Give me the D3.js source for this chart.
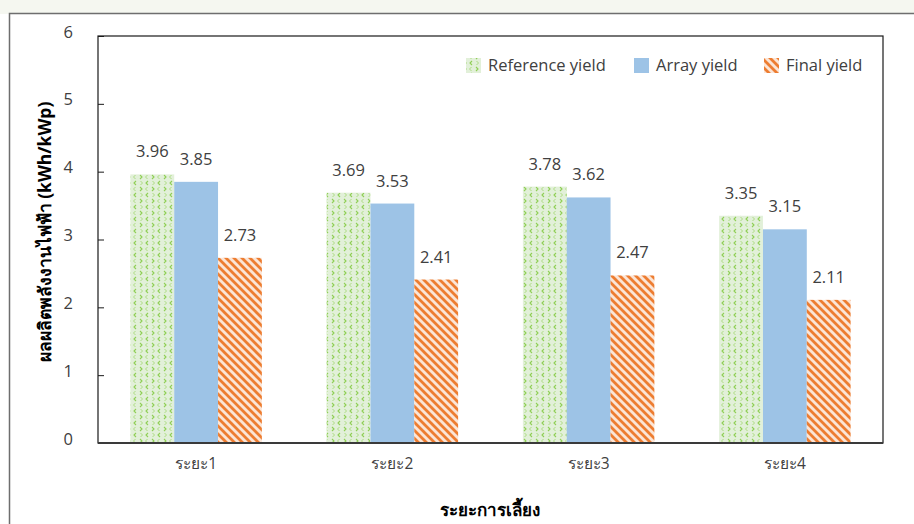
<!DOCTYPE html>
<html><head><meta charset="utf-8">
<script src="https://cdn.jsdelivr.net/npm/d3@7"></script>
<style>
body{margin:0;background:#fff;}
svg{display:block;font-family:"Open Sans","Noto Sans","DejaVu Sans",sans-serif;}
</style></head>
<body>
<svg id="c" width="914" height="524"></svg>
<script>
const categories = ["ระยะ1","ระยะ2","ระยะ3","ระยะ4"];
const seriesNames = ["Reference yield","Array yield","Final yield"];
const referenceYield = [3.96,3.69,3.78,3.35];
const arrayYield = [3.85,3.53,3.62,3.15];
const finalYield = [2.73,2.41,2.47,2.11];
const yTicks = [0,1,2,3,4,5,6];

const svg = d3.select("#c");
const W=914,H=524;
const L=98,R=883,T=36,B=443;
const FS=16.5;

svg.append("rect").attr("x",0).attr("y",0).attr("width",W).attr("height",14).attr("fill","#f5f7f0");
svg.append("rect").attr("x",9.5).attr("y",13.5).attr("width",W).attr("height",H).attr("fill","#fff").attr("stroke","#6e6e6e").attr("stroke-width",1.5);

const defs = svg.append("defs");
const pg = defs.append("pattern").attr("id","pGreen").attr("patternUnits","userSpaceOnUse").attr("width",12).attr("height",12);
pg.append("rect").attr("width",12).attr("height",12).attr("fill","#e2f0d9");
pg.append("path").attr("d","M4,1 L2,3 L4,5").attr("fill","none").attr("stroke","#8fcf55").attr("stroke-width",1.1);
pg.append("path").attr("d","M8,7 L10,9 L8,11").attr("fill","none").attr("stroke","#8fcf55").attr("stroke-width",1.1);
pg.append("path").attr("d","M8.5,1 L10.5,3 L8.5,5").attr("fill","none").attr("stroke","#a6d877").attr("stroke-width",0.9);
pg.append("path").attr("d","M3.5,7 L1.5,9 L3.5,11").attr("fill","none").attr("stroke","#a6d877").attr("stroke-width",0.9);
const po = defs.append("pattern").attr("id","pOrange").attr("patternUnits","userSpaceOnUse").attr("width",8).attr("height",8);
po.append("rect").attr("width",8).attr("height",8).attr("fill","#fbe5d6");
po.append("path").attr("d","M-2,-2 L10,10 M-2,6 L2,10 M6,-2 L10,2").attr("stroke","#ed7d31").attr("stroke-width",2.8);

const fills = ["url(#pGreen)","#9dc3e6","url(#pOrange)"];
const data = [referenceYield,arrayYield,finalYield];

const x0 = d3.scaleBand().domain(categories).range([L,R]).paddingInner(0.33).paddingOuter(0.165);
const x1 = d3.scaleBand().domain(seriesNames).range([0,x0.bandwidth()]);
const y = d3.scaleLinear().domain([0,6]).range([B,T]);

svg.append("rect").attr("x",L).attr("y",T).attr("width",R-L).attr("height",B-T).attr("fill","#fff").attr("stroke","#1a1a1a").attr("stroke-width",1.2);

categories.forEach((c,i)=>{
  seriesNames.forEach((s,j)=>{
    const v=data[j][i];
    svg.append("rect").attr("x",x0(c)+x1(s)).attr("y",y(v)).attr("width",x1.bandwidth()).attr("height",B-y(v)).attr("fill",fills[j]);
    svg.append("text").attr("x",x0(c)+x1(s)+x1.bandwidth()/2).attr("y",y(v)-17).attr("text-anchor","middle")
      .attr("font-size",FS).attr("fill","#404040").text(v.toFixed(2));
  });
});

const yAxis = svg.append("g").attr("transform",`translate(${L},0)`)
  .call(d3.axisRight(y).tickValues(yTicks).tickSize(6).tickFormat(""));
yAxis.select(".domain").remove();
yAxis.selectAll("line").attr("stroke","#1a1a1a");
yTicks.forEach(t=>{
  svg.append("text").attr("x",73).attr("y",y(t)).attr("dy","0.1em").attr("text-anchor","end")
    .attr("font-size",FS).attr("fill","#404040").text(t);
});

const xAxis = svg.append("g").attr("transform",`translate(0,${B})`)
  .call(d3.axisBottom(x0).tickSize(0).tickPadding(15));
xAxis.select(".domain").attr("stroke","#3a3a3a").attr("stroke-width",2).attr("d",`M${L},0H${R}`);
xAxis.selectAll("text").attr("font-size",15.5).attr("fill","#404040").attr("font-family","'Open Sans','Noto Sans','DejaVu Sans',sans-serif");

svg.append("text").attr("x",490).attr("y",516).attr("text-anchor","middle").attr("font-size",17).attr("font-weight","bold").attr("fill","#000").text("ระยะการเลี้ยง");
svg.append("text").attr("transform","translate(51,232) rotate(-90)").attr("text-anchor","middle").attr("font-size",17.5).attr("font-weight","bold").attr("fill","#000").text("ผลผลิตพลังงานไฟฟ้า (kWh/kWp)");

const legX=[466,634,764];
seriesNames.forEach((s,j)=>{
  svg.append("rect").attr("x",legX[j]).attr("y",58).attr("width",15).attr("height",15).attr("fill",fills[j]);
  svg.append("text").attr("x",legX[j]+22).attr("y",65).attr("dy","0.35em").attr("font-size",FS).attr("fill","#404040").text(s);
});
</script>
</body></html>
